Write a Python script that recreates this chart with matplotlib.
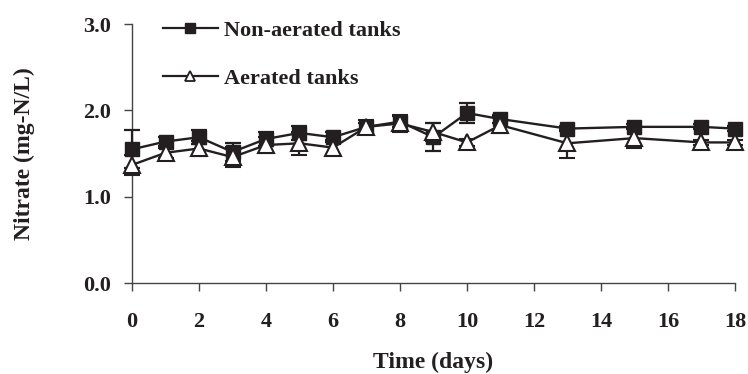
"""
График нитратов в аэрируемых и неаэрируемых резервуарах
"""
import matplotlib
matplotlib.use('Agg')  # без GUI
import matplotlib.pyplot as plt
from matplotlib.lines import Line2D

# Дни отбора проб
days = [0, 1, 2, 3, 4, 5, 6, 7, 8, 9, 10, 11, 13, 15, 17, 18]

# Нитраты, мг-N/л
non_aerated = [1.55, 1.64, 1.69, 1.52, 1.67, 1.74, 1.69, 1.81, 1.87, 1.69,
               1.97, 1.90, 1.79, 1.81, 1.81, 1.79]
non_aerated_err = [0.22, 0.05, 0.08, 0.10, 0.08, 0.08, 0.06, 0.05, 0.06, 0.16,
                   0.12, 0.05, 0.03, 0.03, 0.03, 0.03]

aerated = [1.37, 1.51, 1.56, 1.46, 1.60, 1.62, 1.57, 1.81, 1.85, 1.75,
           1.63, 1.83, 1.62, 1.68, 1.63, 1.63]
aerated_err = [0.12, 0.06, 0.09, 0.12, 0.09, 0.13, 0.09, 0.08, 0.10, 0.10,
               0.04, 0.09, 0.17, 0.12, 0.03, 0.03]

x_ticks = [0, 2, 4, 6, 8, 10, 12, 14, 16, 18]
y_ticks = [0.0, 1.0, 2.0, 3.0]

INK = '#231f20'

plt.rcParams['font.family'] = ['Liberation Serif', 'DejaVu Serif']
plt.rcParams['font.weight'] = 'bold'

fig = plt.figure(figsize=(7.48, 3.74), dpi=100, facecolor='white')
ax = fig.add_axes([0.1765, 0.2425, 0.806, 0.6933])

ax.errorbar(days, non_aerated, yerr=non_aerated_err, color=INK,
            marker='s', markersize=10, markerfacecolor=INK,
            markeredgecolor=INK, linewidth=1.7, elinewidth=1.6,
            capsize=5.5, capthick=1.6, clip_on=False, zorder=3)
ax.errorbar(days, aerated, yerr=aerated_err, color=INK,
            marker='^', markersize=11.5, markerfacecolor='white',
            markeredgecolor=INK, markeredgewidth=1.5,
            linewidth=1.7, elinewidth=1.6, capsize=5.5, capthick=1.6,
            clip_on=False, zorder=4)

ax.set_xlim(0, 18)
ax.set_ylim(0, 3)
ax.set_xticks(x_ticks)
ax.set_yticks(y_ticks)
ax.set_yticklabels([f'{v:.1f}' for v in y_ticks])

for side in ('top', 'right'):
    ax.spines[side].set_visible(False)
for side in ('left', 'bottom'):
    ax.spines[side].set_color('#444444')
    ax.spines[side].set_linewidth(1.0)

ax.tick_params(axis='both', direction='out', length=6, width=1.0,
               color='#444444', labelsize=16, labelcolor=INK)
ax.tick_params(axis='y', pad=9)
ax.tick_params(axis='x', pad=15)

ax.set_xlabel('Time (days)', fontsize=17, fontweight='bold', color=INK,
              labelpad=14)
ax.set_ylabel('Nitrate (mg-N/L)', fontsize=17, fontweight='bold',
              color=INK, labelpad=35)

# Легенда без рамки: только линия с маркером, без планок погрешности
handles = [
    Line2D([], [], color=INK, linewidth=1.6, marker='s', markersize=6.5,
           markerfacecolor=INK, markeredgecolor=INK),
    Line2D([], [], color=INK, linewidth=1.6, marker='^', markersize=7.5,
           markerfacecolor='white', markeredgecolor=INK, markeredgewidth=1.3),
]
leg = ax.legend(handles, ['Non-aerated tanks', 'Aerated tanks'],
                loc='upper left', bbox_to_anchor=(0.218, 0.945),
                bbox_transform=fig.transFigure, frameon=False,
                fontsize=16, handlelength=2.45, handletextpad=0.3,
                labelspacing=1.23, borderpad=0, borderaxespad=0)
for text in leg.get_texts():
    text.set_color(INK)

fig.savefig('out.png', dpi=100, facecolor='white')
plt.close(fig)
